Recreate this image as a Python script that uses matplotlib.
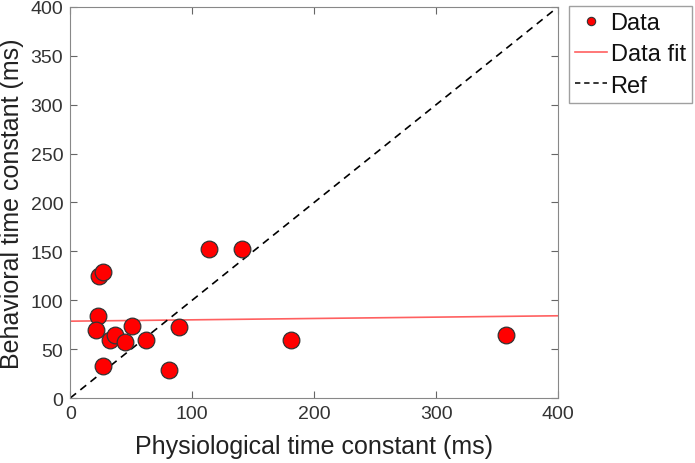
import matplotlib.pyplot as plt
from matplotlib.lines import Line2D

plt.rcParams['font.family'] = ['Liberation Sans', 'DejaVu Sans']

# data (ms)
physio = [114, 141, 24, 27, 23, 21, 51, 89, 33, 37, 45, 62, 27, 81, 181, 357]
behav = [152, 152, 125, 129, 84, 70, 74, 73, 59, 64, 57, 59, 33, 29, 59, 64]

# linear fit (intercept, slope)
fit_b, fit_m = 78.6, 0.0138
fit_x = [0, 400]
ref_x = [0, 400]

fig = plt.figure(figsize=(6.95, 4.64), dpi=100)
ax = fig.add_axes([0.101, 0.140, 0.702, 0.843])

fit_y = [fit_b + fit_m * x for x in fit_x]
ax.plot(fit_x, fit_y, color='#ff6060', lw=1.2, zorder=2)
ax.plot(ref_x, ref_x, color='black', ls=(0, (4.5, 3.3)), lw=1.2, zorder=2)
ax.plot(physio, behav, 'o', ms=12, mfc='red', mec='#333333', mew=0.9, zorder=3)

ax.set_xlim(0, 400)
ax.set_ylim(0, 400)
ax.set_xticks(range(0, 401, 100))
ax.set_yticks(range(0, 401, 50))
ax.tick_params(direction='in', top=True, right=True, length=5, labelsize=14,
               color='#666666', labelcolor='#333333', pad=5)
for s in ax.spines.values():
    s.set_color('#888888')
ax.set_xlabel('Physiological time constant (ms)', fontsize=18, color='#222222', labelpad=9)
ax.set_ylabel('Behavioral time constant (ms)', fontsize=18, color='#222222', labelpad=5)

handles = [
    Line2D([], [], marker='o', ls='none', ms=6, mfc='red', mec='#333333', mew=0.8),
    Line2D([], [], color='#ff6060', lw=1.2),
    Line2D([], [], color='black', ls=(0, (3.5, 2.5)), lw=1.1),
]
leg = fig.legend(handles, ['Data', 'Data fit', 'Ref'], loc='upper left',
                 bbox_to_anchor=(0.819, 0.985), fontsize=17, frameon=True,
                 fancybox=False, edgecolor='#888888', handlelength=1.35,
                 handletextpad=0.15, borderpad=0.25, labelspacing=0.4,
                 borderaxespad=0)
leg.get_frame().set_linewidth(1.0)
for t in leg.get_texts():
    t.set_color('#111111')

fig.savefig('out.png', dpi=100)
